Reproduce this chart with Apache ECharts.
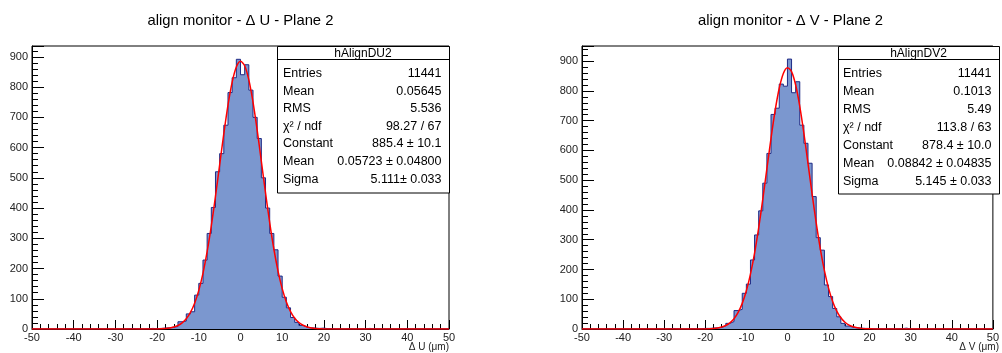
<!DOCTYPE html>
<html><head><meta charset="utf-8">
<script src="https://cdn.jsdelivr.net/npm/echarts@6/dist/echarts.min.js"></script>
<style>html,body{margin:0;padding:0;background:#fff}#c{width:1002px;height:353px}</style>
</head><body><div id="c"></div>
<script>
// ---- data ----
const binStart = -50, binWidth = 1;
const countsU = [
  0,0,0,0,0,0,0,0,0,0,
  0,0,0,0,0,1,0,0,0,0,
  0,0,0,2,1,0,0,1,2,1,
  2,3,4,6,8,24,26,50,57,112,
  151,228,316,402,520,580,674,782,831,892,
  841,874,790,700,630,500,400,316,262,175,
  105,70,38,22,12,6,4,3,2,3,
  1,1,0,0,0,1,0,0,0,0,
  2,1,0,0,0,0,0,0,0,1,
  0,0,0,0,0,0,0,0,0,0
];
const countsV = [
  0,0,0,0,0,0,0,0,0,0,
  0,0,0,0,0,0,0,0,0,0,
  0,2,1,0,0,0,1,0,1,2,
  2,3,4,5,11,19,25,62,66,120,
  151,232,316,397,490,590,721,742,823,816,
  907,794,831,685,624,557,445,307,265,148,
  109,69,41,19,10,6,4,3,2,2,
  1,0,1,0,1,0,1,1,3,0,
  0,0,0,0,0,0,0,0,0,0,
  0,0,0,0,0,0,0,0,0,0
];
const fitX = [-50,-21,-20,-19,-18,-17,-16,-15,-14,-13,-12,-11,-10,-9,-8,-7,-6,-5,-4,-3,-2,-1,0,1,2,3,4,5,6,7,8,9,10,11,12,13,14,15,16,17,18,19,20,21,50];
const fitU = [0,0.2,0.4,0.9,1.7,3.4,6.4,11.5,20.2,33.9,54.8,85.2,127.8,184.2,255.6,341.3,438.6,542.7,646.2,740.4,816.5,866.7,885.3,870.5,823.7,750.1,657.5,554.6,450.3,351.9,264.6,191.5,133.4,89.4,57.7,35.8,21.4,12.3,6.8,3.5,1.9,0.9,0.4,0.2,0];
const fitV = [0,0.2,0.4,0.9,1.8,3.5,6.6,11.9,20.7,34.5,55.6,86.1,128.5,184.5,255.3,340.0,436.1,538.6,640.6,733.6,808.9,858.9,878.3,864.7,819.8,748.4,657.9,556.9,453.9,356.3,269.3,196.0,137.3,92.7,60.2,37.7,22.7,13.2,7.4,4.0,2.1,1.0,0.5,0.2,0];
const xTicks = {min:-50, max:50, interval:10};
const yMaxU = 936, yMaxV = 951;
const titles = ['align monitor - \u0394 U - Plane 2', 'align monitor - \u0394 V - Plane 2'];
const axisTitles = ['\u0394 U (\u03bcm)', '\u0394 V (\u03bcm)'];
const statsU = {name:'hAlignDU2', rows:[['Entries','11441'],['Mean','0.05645'],['RMS','5.536'],['\u03c7\u00b2 / ndf','98.27 / 67'],['Constant','885.4 \u00b1 10.1'],['Mean','0.05723 \u00b1 0.04800'],['Sigma','5.111\u00b1 0.033']]};
const statsV = {name:'hAlignDV2', rows:[['Entries','11441'],['Mean','0.1013'],['RMS','5.49'],['\u03c7\u00b2 / ndf','113.8 / 63'],['Constant','878.4 \u00b1 10.0'],['Mean','0.08842 \u00b1 0.04835'],['Sigma','5.145 \u00b1 0.033']]};

// ---- build ----
const FONT = '"Liberation Sans", Arial, Helvetica, sans-serif';
function histData(counts){
  const d = counts.map((v,i)=>[binStart + i*binWidth, v]);
  d.push([binStart + counts.length*binWidth, counts[counts.length-1]]);
  return d;
}
function fitData(ys){ return fitX.map((x,i)=>[x, ys[i]]); }

const grids = [
  {left:32, width:417, top:46, height:283},
  {left:582, width:417, top:46, height:283}
];
function xAxisCfg(gi){
  return {type:'value', gridIndex:gi, min:xTicks.min, max:xTicks.max, interval:xTicks.interval,
    axisLine:{show:true, onZero:false, lineStyle:{color:'#000', width:1}},
    axisTick:{show:true, inside:true, length:9, lineStyle:{color:'#000'}},
    minorTick:{show:true, splitNumber:5, length:5, lineStyle:{color:'#000'}},
    splitLine:{show:false}, minorSplitLine:{show:false},
    axisLabel:{color:'#222', fontFamily:FONT, fontSize:11, margin:3, showMinLabel:true, showMaxLabel:true}};
}
function yAxisCfg(gi, mx){
  return {type:'value', gridIndex:gi, min:0, max:mx, interval:100,
    axisLine:{show:true, onZero:false, lineStyle:{color:'#000', width:1}},
    axisTick:{show:true, inside:true, length:12, lineStyle:{color:'#000'}},
    minorTick:{show:true, splitNumber:5, length:6, lineStyle:{color:'#000'}},
    splitLine:{show:false}, minorSplitLine:{show:false},
    axisLabel:{color:'#222', fontFamily:FONT, fontSize:11, margin:4, showMaxLabel:false}};
}
function statBox(x0, x1, stats, firstRow, rowH, bottom, labelPad){
  const els = [];
  const top = 46.5, sep = 59.5;
  els.push({type:'rect', z:100, shape:{x:x0+0.5, y:top, width:x1-x0, height:bottom-top}, style:{fill:'#fff', stroke:'#000', lineWidth:1}});
  els.push({type:'line', z:101, shape:{x1:x0+0.5, y1:sep, x2:x1+0.5, y2:sep}, style:{stroke:'#000', lineWidth:1}});
  els.push({type:'text', z:102, x:(x0+x1)/2, y:(top+sep)/2+0.5, style:{text:stats.name, font:'12px '+FONT, fill:'#000', textAlign:'center', textVerticalAlign:'middle'}});
  stats.rows.forEach((r,i)=>{
    const y = firstRow + rowH*i;
    els.push({type:'text', z:102, x:x0+labelPad, y:y, style:{text:r[0], font:'12.5px '+FONT, fill:'#000', textAlign:'left', textVerticalAlign:'middle'}});
    els.push({type:'text', z:102, x:x1-7.5, y:y, style:{text:r[1], font:'12.5px '+FONT, fill:'#000', textAlign:'right', textVerticalAlign:'middle'}});
  });
  return els;
}
const graphics = [].concat(
  statBox(277, 449, statsU, 73.5, 17.6, 193, 6),
  statBox(838, 999, statsV, 74, 18, 194, 5),
  [
    {type:'text', z:102, x:240.5, y:21, style:{text:titles[0], font:'14.8px '+FONT, fill:'#000', textAlign:'center', textVerticalAlign:'middle'}},
    {type:'text', z:102, x:790.5, y:21, style:{text:titles[1], font:'14.8px '+FONT, fill:'#000', textAlign:'center', textVerticalAlign:'middle'}},
    {type:'text', z:102, x:449, y:347, style:{text:axisTitles[0], font:'10px '+FONT, fill:'#222', textAlign:'right', textVerticalAlign:'middle'}},
    {type:'text', z:102, x:999, y:347, style:{text:axisTitles[1], font:'10px '+FONT, fill:'#222', textAlign:'right', textVerticalAlign:'middle'}}
  ]
);
function histSeries(gi, counts){
  return {type:'line', xAxisIndex:gi, yAxisIndex:gi, step:'end', data:histData(counts), showSymbol:false, symbol:'none',
    lineStyle:{color:'#1f2a85', width:1}, areaStyle:{color:'#7b97cf', opacity:1}, z:2, silent:true};
}
function fitSeries(gi, ys){
  return {type:'line', xAxisIndex:gi, yAxisIndex:gi, smooth:0.3, data:fitData(ys), showSymbol:false, symbol:'none',
    lineStyle:{color:'#ff0000', width:1.5}, z:3, silent:true};
}
const chart = echarts.init(document.getElementById('c'), null, {renderer:'canvas'});
chart.setOption({
  animation:false,
  backgroundColor:'#fff',
  grid: grids.map(g=>Object.assign({show:true, borderColor:'#000', borderWidth:1, backgroundColor:'transparent', containLabel:false}, g)),
  xAxis:[xAxisCfg(0), xAxisCfg(1)],
  yAxis:[yAxisCfg(0, yMaxU), yAxisCfg(1, yMaxV)],
  series:[histSeries(0, countsU), fitSeries(0, fitU), histSeries(1, countsV), fitSeries(1, fitV)],
  graphic: graphics
});
</script></body></html>
